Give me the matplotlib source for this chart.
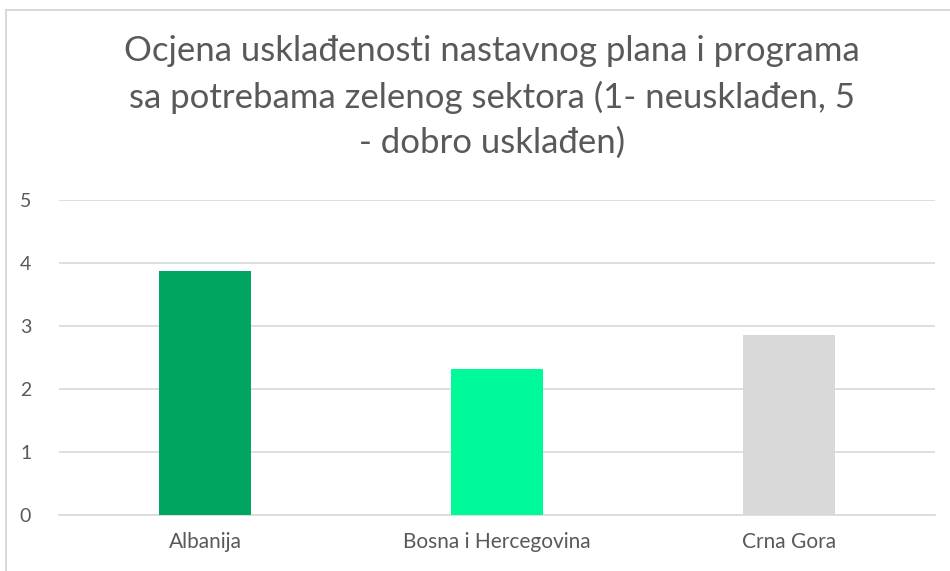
import matplotlib
matplotlib.use('Agg')
import matplotlib.pyplot as plt
from matplotlib.lines import Line2D

plt.rcParams['font.family'] = ['Lato', 'DejaVu Sans']

# podaci
countries = ['Albanija', 'Bosna i Hercegovina', 'Crna Gora']
scores = [3.88, 2.32, 2.86]
bar_colors = ['#00A65F', '#00FA9A', '#D9D9D9']
title = ('Ocjena usklađenosti nastavnog plana i programa\n'
         'sa potrebama zelenog sektora (1- neusklađen, 5\n'
         '- dobro usklađen)')

W, H = 950, 571
fig = plt.figure(figsize=(W / 100, H / 100), dpi=100)
ax = fig.add_axes([59 / W, 1 - 515 / H, 876 / W, 315 / H])

x = range(len(countries))
ax.bar(x, scores, width=0.315, color=bar_colors, zorder=3)

ax.set_xlim(-0.5, len(countries) - 0.5)
ax.set_ylim(0, 5)
ax.set_yticks(range(0, 6))
ax.set_xticks(list(x))
ax.set_xticklabels(countries)
ax.grid(axis='y', color='#D9D9D9', linewidth=1.2, zorder=0)
for s in ['top', 'right', 'left']:
    ax.spines[s].set_visible(False)
ax.spines['bottom'].set_color('#D9D9D9')
ax.spines['bottom'].set_linewidth(1.2)
ax.tick_params(length=0, colors='#595959', labelsize=14)
ax.tick_params(axis='x', labelsize=15, pad=12)
ax.tick_params(axis='y', pad=20)

fig.text(492 / W, 1 - 97 / H, title, ha='center', va='center',
         fontsize=25, color='#595959', linespacing=1.5)

# rub okvira
fig.add_artist(Line2D([6 / W, 6 / W], [0, 1 - 10 / H], color='#D9D9D9', lw=1.5))
fig.add_artist(Line2D([6 / W, 1], [1 - 10 / H, 1 - 10 / H], color='#D9D9D9', lw=1.5))

fig.savefig('out.png', dpi=100)
